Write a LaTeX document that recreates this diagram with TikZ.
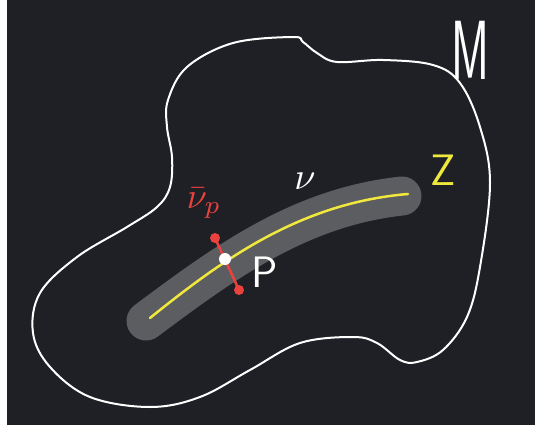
\documentclass[tikz,border=0pt]{standalone}
\usepackage{fontspec}
\usepackage{amsmath,amssymb}
\usepackage{tikz}
\usetikzlibrary{calc}
\definecolor{board}{RGB}{30,32,38}
\definecolor{band}{RGB}{92,93,97}
\definecolor{chalkyellow}{RGB}{240,232,60}
\definecolor{chalkred}{RGB}{236,66,62}

\begin{document}
\begin{tikzpicture}[x=1pt,y=-1pt,
    chalk/.style={line width=2pt,line cap=round,line join=round},
    reddot/.style={circle,fill=chalkred,inner sep=0pt,minimum size=10pt},
    whitedot/.style={circle,fill=white,inner sep=0pt,minimum size=12pt},
    bigletter/.style={font=\sffamily\fontsize{44}{44}\selectfont,inner sep=0pt}]
  \useasboundingbox (0,0) rectangle (535,425);
  \fill[board] (0,0) rectangle (535,425);
  \fill[white] (0,0) rectangle (7,425);
  % the manifold M
  \draw[chalk,white] plot[smooth cycle,tension=0.6] coordinates {
    (293,37) (233,43) (187,67) (168,100) (167,127) (172,157) (170,187)
    (157,207) (127,227) (77,257) (40,293) (33,333) (50,367) (90,397)
    (150,407) (200,397) (250,370) (300,343) (353,337) (377,343) (400,360)
    (417,362) (443,350) (467,317) (480,267) (490,183) (480,127) (460,83)
    (433,65) (383,60) (337,62) (317,53) (303,42)};
  % tubular neighbourhood and Z
  \coordinate (zleft) at (150,318);
  \coordinate (zright) at (408,194);
  \draw[band,line width=39pt,line cap=round]
    ($(zleft)+(-4,3)$) .. controls (225,262) and (300,207) .. ($(zright)+(-6,2)$);
  \draw[chalkyellow,line width=2.5pt,line cap=round]
    (zleft) .. controls (222,260) and (300,203) .. (zright);
  % normal fibre at p
  \node[reddot] (vtop) at (215,238) {};
  \node[reddot] (vbot) at (239,290) {};
  \draw[chalkred,line width=2.5pt] (vtop.center) -- (vbot.center);
  \node[whitedot] (p) at (225,259) {};
  % labels
  \node[bigletter,white] (plabel) at (265,272) {P};
  \node[bigletter,chalkyellow] (zlabel) at (443,170) {Z};
  \node[font=\sffamily\fontsize{84}{84}\selectfont,inner sep=0pt,white,
    xscale=0.55,transform shape] (mlabel) at (470,50) {M};
  \node[white,inner sep=0pt,scale=3.8,transform shape] (nulabel)
    at (305,181) {$\nu$};
  \node[chalkred,inner sep=0pt,scale=3.6,transform shape] (nuplabel)
    at (204,203) {$\bar{\nu}_p$};
\end{tikzpicture}
\end{document}
